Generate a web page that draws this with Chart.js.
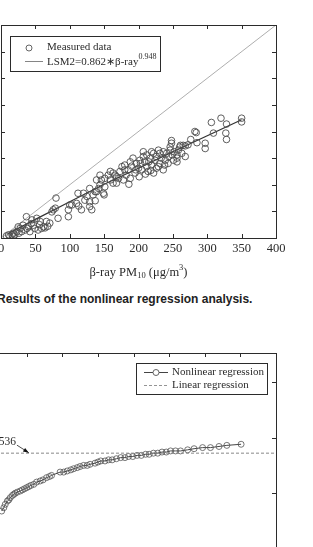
<!DOCTYPE html>
<html>
<head>
<meta charset="utf-8">
<script src="https://cdn.jsdelivr.net/npm/chart.js@4.4.1/dist/chart.umd.min.js"></script>
<style>
  html, body { margin: 0; padding: 0; background: #fff; }
  body { width: 313px; height: 547px; overflow: hidden; position: relative; }
  canvas { position: absolute; }
  #scatterChart { left: -50px; top: 0; }
  #ratioChart { left: -60px; top: 330px; }
  .caption {
    position: absolute; left: -3px; top: 292px; white-space: nowrap;
    font: bold 12px "Liberation Sans", Arial, sans-serif; color: #222;
  }
</style>
</head>
<body>
<canvas id="scatterChart" width="363" height="290"></canvas>
<div class="caption">Results of the nonlinear regression analysis.</div>
<canvas id="ratioChart" width="373" height="260"></canvas>
<script>
const measuredX = [80, 76, 74, 79, 83, 98, 103, 37, 45, 52, 57, 62, 64, 47, 40, 32, 28, 23, 18, 16,
  20, 30, 35, 42, 49, 54, 59, 25, 66, 71, 13, 11, 18, 8, 26, 38, 44, 68, 56,
  112, 120, 125, 110, 129, 134, 137, 142, 144, 146, 151, 156, 159, 163, 168, 173, 176, 180, 149, 132,
  117, 122, 139, 151, 163, 168, 171, 100, 98,
  180, 188, 192, 197, 202, 207, 212, 217, 222, 226, 231, 236, 241, 246, 248, 256, 260, 265, 272, 205,
  212, 219, 226, 231, 239, 243, 251, 256, 222, 236, 178, 188, 195, 201, 185, 209, 214, 219, 229, 207,
  263, 268,
  350, 350, 320, 306, 328, 327, 328, 309, 282, 284, 276, 297, 297, 285, 268, 261, 248, 246,
  256, 186, 150, 129, 137, 113, 144, 159, 166, 139, 129,
  190, 200, 215, 224, 233, 244, 252, 238, 210, 182, 196, 229, 249, 258, 203, 218];
const measuredY = [75, 53, 49, 56, 37, 40, 62, 40, 34, 37, 31, 21, 19, 24, 21, 24, 18, 12, 9, 6,
  6, 12, 15, 12, 18, 15, 18, 21, 31, 28, 3, 6, 3, 4, 9, 18, 27, 22, 25,
  84, 84, 78, 65, 68, 81, 87, 93, 100, 109, 112, 118, 109, 122, 115, 125, 134, 128, 84, 53,
  53, 71, 87, 96, 103, 103, 112, 62, 53,
  137, 143, 150, 140, 146, 153, 156, 150, 159, 153, 159, 162, 159, 165, 178, 156, 171, 174, 175, 128,
  134, 137, 131, 140, 146, 140, 146, 150, 122, 128, 109, 112, 122, 115, 128, 143, 125, 162, 165, 162,
  159, 153,
  225, 218, 225, 217, 214, 197, 185, 197, 200, 198, 185, 178, 168, 179, 173, 174, 183, 171,
  143, 101, 81, 59, 70, 60, 118, 125, 118, 109, 93,
  135, 131, 143, 146, 150, 153, 162, 137, 120, 118, 128, 134, 156, 165, 140, 127];

// fitted curve LSM2 = 0.862*beta^0.948
const fitX = [10, 50, 100, 150, 200, 250, 300, 350];
const fitY = [8, 35, 68, 101, 131, 162, 192, 222];
const identityX = [0, 400];
const identityY = [0, 400];
const axisTicks = [0, 50, 100, 150, 200, 250, 300, 350, 400];

// lower panel: nonlinear vs linear regression
const nonlinearX = [15, 18, 20, 23, 25, 27, 30, 32, 34, 37, 41, 44, 47, 50, 53, 56, 60, 64, 69, 73,
  78, 82, 85, 97, 102, 107, 112, 116, 121, 125, 130, 135, 139, 146, 150, 154, 160, 165, 170, 176,
  182, 188, 193, 199, 205, 211, 217, 222, 228, 234, 240, 246, 252, 259, 266, 276, 285, 297, 308,
  320, 331, 351];
const nonlinearY = [0.484, 0.487, 0.490, 0.493, 0.494, 0.496, 0.498, 0.499, 0.500, 0.501, 0.502,
  0.503, 0.504, 0.505, 0.506, 0.507, 0.508, 0.510, 0.511, 0.512, 0.514, 0.515, 0.516, 0.519, 0.519,
  0.520, 0.521, 0.522, 0.523, 0.524, 0.525, 0.525, 0.526, 0.527, 0.528, 0.529, 0.529, 0.530, 0.530,
  0.531, 0.532, 0.532, 0.533, 0.533, 0.534, 0.534, 0.535, 0.535, 0.536, 0.536, 0.537, 0.537, 0.538,
  0.538, 0.538, 0.539, 0.540, 0.541, 0.541, 0.542, 0.543, 0.544];
const linearValue = 0.536;
const ratioTicks = [0.45, 0.50, 0.55, 0.60];

const SERIF = '"Liberation Serif", "Times New Roman", serif';
const INK = '#2b2b2b';

const toPoints = (xs, ys) => xs.map((x, i) => ({x: x, y: ys[i]}));

// box around the plot with MATLAB style inward ticks
const frameTicks = {
    id: 'frameTicks',
    afterDatasetsDraw(chart) {
        const {ctx, chartArea: a, scales} = chart;
        const L = 4;
        ctx.save();
        ctx.strokeStyle = INK;
        ctx.lineWidth = 1;
        ctx.strokeRect(Math.round(a.left) + 0.5, Math.round(a.top) + 0.5,
            Math.round(a.right - a.left), Math.round(a.bottom - a.top));
        ctx.beginPath();
        scales.x.ticks.forEach(t => {
            const px = Math.round(scales.x.getPixelForValue(t.value)) + 0.5;
            if (px <= a.left + 1 || px >= a.right - 1) return;
            ctx.moveTo(px, a.top); ctx.lineTo(px, a.top + L);
            ctx.moveTo(px, a.bottom); ctx.lineTo(px, a.bottom - L);
        });
        scales.y.ticks.forEach(t => {
            const py = Math.round(scales.y.getPixelForValue(t.value)) + 0.5;
            if (py <= a.top + 1 || py >= a.bottom - 1) return;
            ctx.moveTo(a.left, py); ctx.lineTo(a.left + L, py);
            ctx.moveTo(a.right, py); ctx.lineTo(a.right - L, py);
        });
        ctx.stroke();
        ctx.restore();
    }
};

const scatterExtras = {
    id: 'scatterExtras',
    afterDraw(chart) {
        const {ctx, chartArea: a} = chart;
        ctx.save();
        // legend box
        const bx = a.left + 9, by = a.top + 11;
        ctx.fillStyle = '#fff';
        ctx.fillRect(bx, by, 150, 35);
        ctx.strokeStyle = INK;
        ctx.lineWidth = 1;
        ctx.strokeRect(bx + 0.5, by + 0.5, 150, 35);
        ctx.strokeStyle = '#555';
        ctx.lineWidth = 0.9;
        ctx.beginPath();
        ctx.arc(a.left + 28, a.top + 23, 3, 0, Math.PI * 2);
        ctx.stroke();
        ctx.strokeStyle = '#777';
        ctx.beginPath();
        ctx.moveTo(a.left + 24, a.top + 36.5);
        ctx.lineTo(a.left + 42, a.top + 36.5);
        ctx.stroke();
        ctx.fillStyle = INK;
        ctx.textBaseline = 'middle';
        ctx.font = '11px ' + SERIF;
        ctx.fillText('Measured data', a.left + 46, a.top + 22);
        const main = 'LSM2=0.862\u2217\u03b2-ray';
        ctx.fillText(main, a.left + 46, a.top + 37);
        const w = ctx.measureText(main).width;
        ctx.font = '8px ' + SERIF;
        ctx.fillText('0.948', a.left + 46 + w, a.top + 32);
        // x axis title with subscript and superscript
        const cy = a.bottom + 35;
        const parts = [['\u03b2-ray PM', 12.5, 0], ['10', 8.5, 3], [' (\u03bcg/m', 12.5, 0], ['3', 8.5, -5], [')', 12.5, 0]];
        let total = 0;
        parts.forEach(p => { ctx.font = p[1] + 'px ' + SERIF; total += ctx.measureText(p[0]).width; });
        let x = (a.left + a.right) / 2 - total / 2;
        parts.forEach(p => {
            ctx.font = p[1] + 'px ' + SERIF;
            ctx.fillText(p[0], x, cy + p[2]);
            x += ctx.measureText(p[0]).width;
        });
        ctx.restore();
    }
};

const ratioExtras = {
    id: 'ratioExtras',
    afterDraw(chart) {
        const {ctx, chartArea: a, scales} = chart;
        ctx.save();
        // legend box
        const bx = a.right - 140, by = a.top + 10;
        ctx.fillStyle = '#fff';
        ctx.fillRect(bx, by, 131, 31);
        ctx.strokeStyle = INK;
        ctx.lineWidth = 1;
        ctx.strokeRect(bx + 0.5, by + 0.5, 131, 31);
        ctx.strokeStyle = '#444';
        ctx.beginPath();
        ctx.moveTo(a.right - 132, a.top + 19.5);
        ctx.lineTo(a.right - 108, a.top + 19.5);
        ctx.stroke();
        ctx.fillStyle = '#fff';
        ctx.strokeStyle = '#555';
        ctx.lineWidth = 0.9;
        ctx.beginPath();
        ctx.arc(a.right - 120, a.top + 19.5, 3, 0, Math.PI * 2);
        ctx.fill();
        ctx.stroke();
        ctx.strokeStyle = '#888';
        ctx.setLineDash([3, 2]);
        ctx.beginPath();
        ctx.moveTo(a.right - 132, a.top + 32.5);
        ctx.lineTo(a.right - 108, a.top + 32.5);
        ctx.stroke();
        ctx.setLineDash([]);
        ctx.fillStyle = INK;
        ctx.textBaseline = 'middle';
        ctx.font = '11px ' + SERIF;
        ctx.fillText('Nonlinear regression', a.right - 104, a.top + 19);
        ctx.fillText('Linear regression', a.right - 104, a.top + 32);
        // value label with arrow onto the dashed line
        const ly = scales.y.getPixelForValue(linearValue);
        const lx = scales.x.getPixelForValue(35);
        ctx.font = '11.5px ' + SERIF;
        ctx.textAlign = 'right';
        ctx.fillText(String(linearValue), lx, ly - 11);
        const tx = scales.x.getPixelForValue(53);
        ctx.strokeStyle = '#222';
        ctx.lineWidth = 0.8;
        ctx.beginPath();
        ctx.moveTo(lx + 1, ly - 8);
        ctx.lineTo(tx, ly - 0.5);
        ctx.stroke();
        const ang = Math.atan2(7.5, tx - lx - 1);
        ctx.fillStyle = '#111';
        ctx.beginPath();
        ctx.moveTo(tx, ly - 0.5);
        ctx.lineTo(tx - 6 * Math.cos(ang - 0.35), ly - 0.5 - 6 * Math.sin(ang - 0.35));
        ctx.lineTo(tx - 6 * Math.cos(ang + 0.35), ly - 0.5 - 6 * Math.sin(ang + 0.35));
        ctx.closePath();
        ctx.fill();
        ctx.restore();
    }
};

function fixedTicks(values) {
    return scale => { scale.ticks = values.map(v => ({value: v})); };
}

new Chart(document.getElementById('scatterChart'), {
    type: 'scatter',
    data: {
        datasets: [
            {
                label: 'Measured data',
                data: toPoints(measuredX, measuredY),
                pointRadius: 3.3,
                pointBorderWidth: 0.9,
                pointBorderColor: '#4d4d4d',
                pointBackgroundColor: 'transparent'
            },
            {
                label: 'LSM2',
                data: toPoints(fitX, fitY),
                showLine: true,
                pointRadius: 0,
                borderColor: '#333',
                borderWidth: 1.3
            },
            {
                label: '1:1',
                data: toPoints(identityX, identityY),
                showLine: true,
                pointRadius: 0,
                borderColor: '#999',
                borderWidth: 0.8
            }
        ]
    },
    options: {
        responsive: false,
        animation: false,
        devicePixelRatio: 1,
        layout: {padding: {top: 25, right: 37, bottom: 0, left: 0}},
        plugins: {legend: {display: false}, tooltip: {enabled: false}},
        scales: {
            x: {
                type: 'linear', min: 0, max: 400,
                afterBuildTicks: fixedTicks(axisTicks),
                afterFit: s => { s.height = 52; },
                grid: {display: false, drawTicks: false},
                border: {display: false},
                ticks: {padding: 3, color: INK, font: {family: SERIF, size: 12.5}}
            },
            y: {
                type: 'linear', min: 0, max: 400,
                afterBuildTicks: fixedTicks(axisTicks),
                afterFit: s => { s.width = 51; },
                grid: {display: false, drawTicks: false},
                border: {display: false},
                ticks: {padding: 4, color: INK, font: {family: SERIF, size: 12.5}}
            }
        }
    },
    plugins: [frameTicks, scatterExtras]
});

new Chart(document.getElementById('ratioChart'), {
    type: 'scatter',
    data: {
        datasets: [
            {
                label: 'Linear regression',
                data: [{x: 0, y: linearValue}, {x: 400, y: linearValue}],
                showLine: true,
                pointRadius: 0,
                borderColor: '#888',
                borderWidth: 1,
                borderDash: [3, 2]
            },
            {
                label: 'Nonlinear regression',
                data: toPoints(nonlinearX, nonlinearY),
                showLine: true,
                borderColor: '#444',
                borderWidth: 1,
                pointRadius: 3,
                pointBorderWidth: 0.8,
                pointBorderColor: '#555',
                pointBackgroundColor: 'transparent'
            }
        ]
    },
    options: {
        responsive: false,
        animation: false,
        devicePixelRatio: 1,
        layout: {padding: {top: 23, right: 37, bottom: 0, left: 0}},
        plugins: {legend: {display: false}, tooltip: {enabled: false}},
        scales: {
            x: {
                type: 'linear', min: 0, max: 400,
                afterBuildTicks: fixedTicks(axisTicks),
                afterFit: s => { s.height = 30; },
                grid: {display: false, drawTicks: false},
                border: {display: false},
                ticks: {padding: 4, color: INK, font: {family: SERIF, size: 12.5}}
            },
            y: {
                type: 'linear', min: 0.44, max: 0.626,
                afterBuildTicks: fixedTicks(ratioTicks),
                afterFit: s => { s.width = 51; },
                grid: {display: false, drawTicks: false},
                border: {display: false},
                ticks: {padding: 4, color: INK, font: {family: SERIF, size: 12.5},
                    callback: v => v.toFixed(2)}
            }
        }
    },
    plugins: [frameTicks, ratioExtras]
});
</script>
</body>
</html>
